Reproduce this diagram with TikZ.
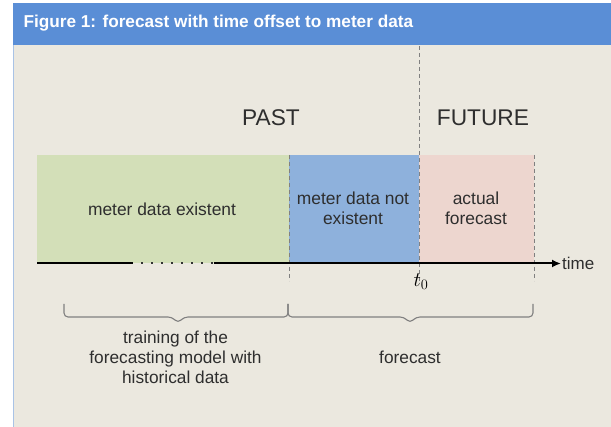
\documentclass[tikz,border=0pt]{standalone}
\usepackage{fontspec}
\setmainfont{Liberation Sans}
\usetikzlibrary{arrows.meta}
\definecolor{headblue}{HTML}{5A8ED6}
\definecolor{panel}{HTML}{EBE8DF}
\definecolor{panelline}{HTML}{A9C3E6}
\definecolor{pastgreen}{HTML}{D3DFB8}
\definecolor{gapblue}{HTML}{8EB1DC}
\definecolor{futpink}{HTML}{EDD6CF}
\definecolor{txt}{HTML}{2E2E2E}
\definecolor{bracegray}{HTML}{808080}
\begin{document}
\begin{tikzpicture}[x=1pt,y=-1pt,
  zone/.style={draw=none,minimum height=108pt,anchor=north west,inner sep=0pt},
  zonetext/.style={text=txt,font=\fontsize{17.4}{20}\selectfont,align=center},
  divider/.style={gray,line width=0.8pt,dash pattern=on 4pt off 3pt},
  era/.style={text=txt,font=\fontsize{22.7}{26}\selectfont},
  bracestyle/.style={bracegray,line width=1.1pt,rounded corners=4pt},
  note/.style={text=txt,font=\fontsize{17.3}{20}\selectfont,align=center}]
\useasboundingbox (0,0) rectangle (611,427);
% page background and panel
\fill[white] (0,0) rectangle (611,427);
\fill[panel] (13,45.5) rectangle (611,427);
\draw[panelline,line width=1pt] (13.5,45.5) -- (13.5,427);
% header bar
\fill[headblue] (13,3.5) rectangle (611,45.5);
\node[anchor=west,text=white,font=\bfseries\fontsize{17.2}{20}\selectfont] (title) at (20,23.5)
  {Figure 1: forecast with time offset to meter data};
% coloured time zones
\node[zone,fill=pastgreen,minimum width=252pt] (known) at (37,155) {};
\node[zone,fill=gapblue,minimum width=130pt] (gap) at (289,155) {};
\node[zone,fill=futpink,minimum width=115pt] (fut) at (419,155) {};
\node[zonetext] (knowntxt) at (162,209) {meter data existent};
\node[zonetext] (gaptxt) at (353,208) {meter data not\\existent};
\node[zonetext] (futtxt) at (476,208) {actual\\forecast};
% era labels
\node[era] (past) at (271,118) {PAST};
\node[era] (future) at (483,118) {FUTURE};
% dashed dividers
\coordinate (d1top) at (289,155); \coordinate (d1bot) at (289,281);
\coordinate (d2top) at (419,46);  \coordinate (d2bot) at (419,281);
\coordinate (d3top) at (534,155); \coordinate (d3bot) at (534,281);
\draw[divider] (d1top) -- (d1bot);
\draw[divider] (d2top) -- (d2bot);
\draw[divider] (d3top) -- (d3bot);
% time axis with an elided stretch
\coordinate (axstart) at (37,263.5);
\coordinate (axbreak1) at (133,263.5);
\coordinate (dotsa) at (141,263.5);
\coordinate (dotsb) at (213,263.5);
\coordinate (axbreak2) at (214,263.5);
\coordinate (axend) at (561,263.5);
\draw[black,line width=2pt] (axstart) -- (axbreak1);
\draw[black!80,line width=2pt,dash pattern=on 2pt off 8pt] (dotsa) -- (dotsb);
\draw[black,line width=2pt,-{Latex[length=9pt,width=8pt]}] (axbreak2) -- (axend);
\node[anchor=west,text=txt,font=\fontsize{17}{20}\selectfont,inner sep=1pt] (timelbl) at (axend) {time};
\node[font=\fontsize{21}{24}\selectfont] (tzero) at (421,282) {$t_{0}$};
% braces under the axis
\coordinate (b1a) at (64,304); \coordinate (b1tip) at (178,323); \coordinate (b1b) at (288,304);
\coordinate (b2a) at (288,304); \coordinate (b2tip) at (410,323); \coordinate (b2b) at (533,304);
\draw[bracestyle] (b1a) -- (64,317) -- (172,317) -- (b1tip) -- (184,317) -- (288,317) -- (b1b);
\draw[bracestyle] (b2a) -- (288,317) -- (404,317) -- (b2tip) -- (416,317) -- (533,317) -- (b2b);
\node[note] (traintxt) at (175.5,357) {training of the\\forecasting model with\\historical data};
\node[note] (fcsttxt) at (410,357) {forecast};
\end{tikzpicture}
\end{document}
